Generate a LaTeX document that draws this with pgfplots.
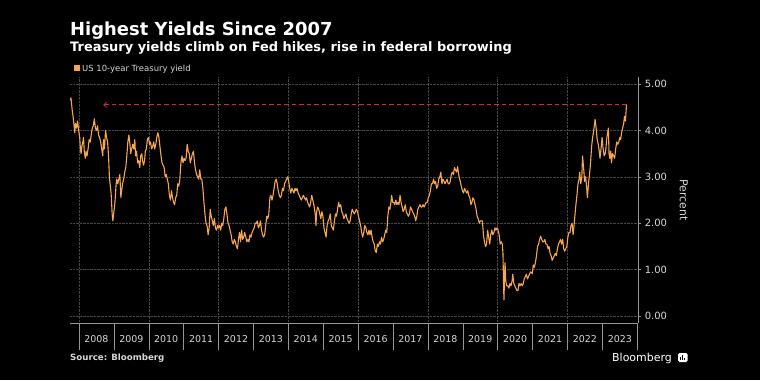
\documentclass[border=0pt]{standalone}
\usepackage{pgfplots}
\pgfplotsset{compat=1.18}
\usetikzlibrary{arrows.meta}
\usepackage{fontspec}
\setmainfont{DejaVu Sans}
\definecolor{lineor}{RGB}{246,166,80}
\definecolor{gridc}{RGB}{70,70,70}
\definecolor{axc}{RGB}{150,150,150}
\definecolor{txt}{RGB}{215,215,215}
\definecolor{redd}{RGB}{205,45,65}
\pgfplotstableread{
x y
2007.75 4.65
2007.77 4.70
2007.79 4.55
2007.81 4.40
2007.83 4.30
2007.86 4.10
2007.88 3.95
2007.90 4.15
2007.93 4.05
2007.96 4.20
2007.99 4.00
2008.02 3.85
2008.04 3.60
2008.06 3.50
2008.08 3.65
2008.11 3.75
2008.13 3.85
2008.15 3.55
2008.18 3.40
2008.20 3.55
2008.23 3.45
2008.26 3.60
2008.29 3.80
2008.32 3.75
2008.35 3.90
2008.38 4.05
2008.41 4.10
2008.44 4.25
2008.47 4.05
2008.50 4.00
2008.53 4.10
2008.56 3.90
2008.59 3.85
2008.62 3.75
2008.65 3.60
2008.68 3.45
2008.70 3.80
2008.73 3.60
2008.76 4.00
2008.79 3.85
2008.82 3.75
2008.85 3.40
2008.87 3.00
2008.89 2.85
2008.92 2.65
2008.95 2.20
2008.97 2.05
2009.00 2.25
2009.03 2.45
2009.06 2.80
2009.08 2.95
2009.11 2.85
2009.14 2.95
2009.17 3.05
2009.20 2.55
2009.22 2.70
2009.25 2.85
2009.28 2.95
2009.31 3.10
2009.34 3.20
2009.37 3.45
2009.40 3.75
2009.43 3.90
2009.46 3.70
2009.48 3.50
2009.51 3.60
2009.54 3.70
2009.57 3.60
2009.60 3.80
2009.62 3.45
2009.65 3.55
2009.68 3.30
2009.71 3.35
2009.74 3.20
2009.77 3.45
2009.80 3.50
2009.82 3.35
2009.85 3.25
2009.88 3.35
2009.90 3.55
2009.93 3.60
2009.96 3.80
2009.99 3.85
2010.02 3.70
2010.05 3.75
2010.08 3.60
2010.11 3.65
2010.14 3.75
2010.17 3.60
2010.20 3.70
2010.23 3.85
2010.26 3.95
2010.29 3.85
2010.32 3.65
2010.35 3.45
2010.38 3.30
2010.41 3.25
2010.44 3.20
2010.47 3.00
2010.50 3.05
2010.53 2.95
2010.56 2.85
2010.59 2.60
2010.62 2.50
2010.65 2.70
2010.68 2.55
2010.71 2.45
2010.74 2.40
2010.77 2.55
2010.80 2.60
2010.83 2.85
2010.86 2.80
2010.89 2.95
2010.92 3.30
2010.95 3.45
2010.98 3.30
2011.01 3.40
2011.04 3.35
2011.07 3.40
2011.10 3.70
2011.13 3.55
2011.16 3.50
2011.19 3.30
2011.22 3.40
2011.25 3.50
2011.28 3.55
2011.31 3.30
2011.34 3.15
2011.37 3.05
2011.40 3.00
2011.43 2.95
2011.46 3.15
2011.49 2.95
2011.52 2.95
2011.55 2.75
2011.58 2.45
2011.61 2.20
2011.64 2.00
2011.67 1.95
2011.70 1.75
2011.73 1.90
2011.76 2.30
2011.79 2.15
2011.82 2.05
2011.85 1.95
2011.88 2.10
2011.91 1.90
2011.94 1.85
2011.97 1.95
2012.00 1.90
2012.03 1.95
2012.06 1.85
2012.09 2.00
2012.12 1.95
2012.15 2.10
2012.18 2.30
2012.21 2.35
2012.24 2.20
2012.27 2.00
2012.30 1.95
2012.33 1.85
2012.36 1.75
2012.39 1.60
2012.42 1.55
2012.45 1.65
2012.48 1.60
2012.51 1.50
2012.54 1.45
2012.57 1.65
2012.60 1.80
2012.63 1.60
2012.66 1.85
2012.69 1.65
2012.72 1.70
2012.75 1.80
2012.78 1.70
2012.81 1.60
2012.84 1.65
2012.87 1.60
2012.90 1.75
2012.93 1.70
2012.96 1.80
2012.99 1.85
2013.02 1.90
2013.05 2.00
2013.08 2.00
2013.11 2.05
2013.14 1.90
2013.17 1.95
2013.20 2.05
2013.23 1.85
2013.26 1.75
2013.29 1.70
2013.32 1.75
2013.35 1.95
2013.38 2.15
2013.41 2.10
2013.44 2.20
2013.47 2.55
2013.50 2.60
2013.53 2.50
2013.56 2.60
2013.59 2.75
2013.62 2.90
2013.65 2.95
2013.68 2.85
2013.71 2.70
2013.74 2.60
2013.77 2.55
2013.80 2.60
2013.83 2.75
2013.86 2.70
2013.89 2.85
2013.92 2.90
2013.95 2.95
2013.98 3.00
2014.01 2.90
2014.04 2.75
2014.07 2.65
2014.10 2.75
2014.13 2.70
2014.16 2.65
2014.19 2.75
2014.22 2.70
2014.25 2.75
2014.28 2.65
2014.31 2.60
2014.34 2.55
2014.37 2.50
2014.40 2.55
2014.43 2.60
2014.46 2.55
2014.49 2.50
2014.52 2.55
2014.55 2.45
2014.58 2.40
2014.61 2.35
2014.64 2.45
2014.67 2.60
2014.70 2.50
2014.73 2.40
2014.77 2.20
2014.79 1.95
2014.81 2.25
2014.84 2.35
2014.87 2.30
2014.90 2.20
2014.93 2.10
2014.96 2.25
2014.99 2.15
2015.02 1.90
2015.05 1.80
2015.08 1.70
2015.11 1.95
2015.14 2.05
2015.17 2.10
2015.20 2.20
2015.23 1.95
2015.26 1.90
2015.29 1.85
2015.32 2.05
2015.35 2.20
2015.38 2.15
2015.41 2.30
2015.44 2.45
2015.47 2.35
2015.50 2.40
2015.53 2.25
2015.56 2.20
2015.59 2.10
2015.62 2.15
2015.65 2.20
2015.68 2.10
2015.71 2.05
2015.74 2.00
2015.77 2.05
2015.80 2.20
2015.83 2.30
2015.86 2.25
2015.89 2.20
2015.92 2.25
2015.95 2.30
2015.98 2.25
2016.01 2.15
2016.04 2.05
2016.07 1.95
2016.10 1.80
2016.13 1.70
2016.16 1.80
2016.19 1.95
2016.22 1.90
2016.25 1.80
2016.28 1.75
2016.31 1.85
2016.34 1.75
2016.37 1.85
2016.40 1.70
2016.43 1.60
2016.46 1.55
2016.49 1.40
2016.52 1.37
2016.55 1.55
2016.58 1.50
2016.61 1.60
2016.64 1.55
2016.67 1.70
2016.70 1.60
2016.73 1.65
2016.76 1.75
2016.79 1.85
2016.82 1.80
2016.85 2.15
2016.88 2.35
2016.91 2.30
2016.94 2.45
2016.96 2.60
2016.99 2.45
2017.02 2.45
2017.05 2.40
2017.08 2.50
2017.11 2.40
2017.14 2.45
2017.17 2.40
2017.20 2.60
2017.23 2.45
2017.26 2.35
2017.29 2.25
2017.32 2.30
2017.35 2.40
2017.38 2.25
2017.41 2.20
2017.44 2.15
2017.47 2.20
2017.50 2.35
2017.53 2.30
2017.56 2.25
2017.59 2.20
2017.62 2.15
2017.65 2.05
2017.68 2.15
2017.71 2.30
2017.74 2.35
2017.77 2.40
2017.80 2.35
2017.83 2.35
2017.86 2.40
2017.89 2.35
2017.92 2.40
2017.95 2.45
2017.98 2.45
2018.01 2.55
2018.04 2.60
2018.07 2.70
2018.10 2.85
2018.13 2.85
2018.16 2.95
2018.19 2.85
2018.22 2.90
2018.25 2.75
2018.28 2.80
2018.31 2.95
2018.34 3.00
2018.37 3.10
2018.40 2.85
2018.43 2.95
2018.46 2.90
2018.49 2.85
2018.52 2.90
2018.55 2.95
2018.58 2.85
2018.61 2.85
2018.64 2.90
2018.67 3.05
2018.70 3.10
2018.73 3.05
2018.76 3.20
2018.79 3.15
2018.82 3.10
2018.85 3.22
2018.88 3.05
2018.91 2.95
2018.94 2.85
2018.97 2.75
2018.99 2.70
2019.02 2.65
2019.05 2.75
2019.08 2.70
2019.11 2.65
2019.14 2.70
2019.17 2.60
2019.20 2.55
2019.23 2.40
2019.26 2.45
2019.29 2.55
2019.32 2.50
2019.35 2.40
2019.38 2.30
2019.41 2.15
2019.44 2.10
2019.47 2.00
2019.50 2.05
2019.53 2.05
2019.56 2.05
2019.59 1.75
2019.62 1.60
2019.65 1.50
2019.68 1.55
2019.71 1.85
2019.74 1.70
2019.77 1.55
2019.80 1.75
2019.83 1.85
2019.86 1.75
2019.89 1.80
2019.92 1.90
2019.95 1.85
2019.98 1.90
2020.01 1.85
2020.04 1.75
2020.07 1.55
2020.10 1.60
2020.13 1.55
2020.15 1.35
2020.17 0.55
2020.18 0.35
2020.19 0.75
2020.21 1.15
2020.23 0.75
2020.26 0.65
2020.29 0.65
2020.32 0.60
2020.35 0.70
2020.38 0.65
2020.41 0.75
2020.43 0.90
2020.46 0.70
2020.49 0.65
2020.52 0.60
2020.55 0.55
2020.58 0.55
2020.61 0.70
2020.64 0.65
2020.67 0.70
2020.70 0.65
2020.73 0.70
2020.76 0.80
2020.79 0.85
2020.82 0.90
2020.85 0.80
2020.88 0.85
2020.91 0.90
2020.94 0.95
2020.97 0.93
2020.99 0.92
2021.02 1.10
2021.05 1.05
2021.08 1.15
2021.11 1.30
2021.14 1.50
2021.17 1.55
2021.20 1.65
2021.23 1.72
2021.26 1.65
2021.29 1.60
2021.32 1.60
2021.35 1.65
2021.38 1.55
2021.41 1.55
2021.44 1.45
2021.47 1.50
2021.50 1.35
2021.53 1.30
2021.56 1.20
2021.59 1.25
2021.62 1.30
2021.65 1.35
2021.68 1.30
2021.71 1.45
2021.74 1.55
2021.77 1.60
2021.80 1.65
2021.83 1.55
2021.86 1.65
2021.89 1.45
2021.92 1.40
2021.95 1.45
2021.98 1.50
2022.01 1.70
2022.04 1.80
2022.07 1.80
2022.10 1.95
2022.13 2.00
2022.16 1.75
2022.18 1.90
2022.21 2.15
2022.24 2.40
2022.27 2.60
2022.30 2.85
2022.33 2.95
2022.35 3.10
2022.38 2.85
2022.41 3.00
2022.43 3.45
2022.46 3.20
2022.49 2.90
2022.52 3.00
2022.55 2.75
2022.57 2.55
2022.60 2.85
2022.63 3.05
2022.66 3.30
2022.69 3.65
2022.72 3.85
2022.75 4.00
2022.79 4.24
2022.82 4.05
2022.85 3.80
2022.88 3.70
2022.91 3.55
2022.93 3.40
2022.96 3.60
2022.99 3.85
2023.02 3.60
2023.05 3.45
2023.08 3.50
2023.10 3.60
2023.12 3.80
2023.15 3.95
2023.17 4.05
2023.19 3.50
2023.21 3.40
2023.24 3.55
2023.26 3.30
2023.29 3.50
2023.32 3.45
2023.35 3.40
2023.38 3.60
2023.41 3.75
2023.44 3.70
2023.47 3.75
2023.50 3.85
2023.52 3.80
2023.55 3.95
2023.58 4.05
2023.61 4.15
2023.63 4.30
2023.66 4.20
2023.69 4.55
}\yields
\begin{document}
\begin{tikzpicture}[x=1bp,y=1bp]
\fill[black] (0,0) rectangle (760,380);
\node[anchor=base west, text=white, inner sep=0, font=\fontsize{18}{20}\selectfont\bfseries] at (70,345) {Highest Yields Since 2007};
\node[anchor=base west, text=white, inner sep=0, font=\fontsize{13}{15}\selectfont\bfseries] at (70,328.5) {Treasury yields climb on Fed hikes, rise in federal borrowing};
\fill[lineor] (74,309) rectangle (80,315);
\node[anchor=base west, text=txt, inner sep=0, font=\fontsize{8.5}{10}\selectfont] at (82,309) {US 10-year Treasury yield};
\node[anchor=base west, text=txt, inner sep=0, font=\fontsize{8.7}{10}\selectfont\bfseries] at (70,19.5) {Source: Bloomberg};
\node[anchor=base west, text=white, inner sep=0, font=\fontsize{11}{13}\selectfont] at (612,18.3) {Bloomberg};
\fill[white, rounded corners=1.5bp] (678,18) rectangle (687.5,27);
\fill[black] (680.2,20.5) rectangle (681.4,23.5);
\fill[black] (682.2,20.5) rectangle (683.4,25.5);
\fill[black] (684.2,20.5) rectangle (685.4,22.5);
\begin{axis}[
  at={(70bp,57bp)}, anchor=south west,
  width=568bp, height=246bp, scale only axis,
  xmin=2007.742, xmax=2024.02,
  ymin=-0.15, ymax=5.15,
  axis x line=bottom, axis y line=right,
  axis line style={-, axc, line width=0.6bp},
  xtick={2008,2009,...,2024},
  x tick label as interval,
  xticklabels={2008,2009,2010,2011,2012,2013,2014,2015,2016,2017,2018,2019,2020,2021,2022,2023},
  tick align=outside,
  x tick style={axc, line width=0.5bp, /pgfplots/major tick length=27bp},
  xticklabel style={text=txt, font=\fontsize{9.5}{11}\selectfont, yshift=-5bp},
  extra x ticks={2008,2010,2012,2014,2016,2018,2020,2022},
  extra x tick labels={},
  extra x tick style={grid=major, /pgfplots/major tick length=0pt, x tick label as interval=false},
  ytick={0,1,2,3,4,5},
  y tick style={axc, line width=0.5bp, /pgfplots/major tick length=3bp},
  yticklabel style={text=txt, font=\fontsize{10}{12}\selectfont, xshift=-1bp},
  yticklabel={\pgfmathprintnumber[fixed, fixed zerofill, precision=2]{\tick}},
  /pgf/number format/assume math mode=true,
  ymajorgrids,
  grid style={densely dotted, gridc, line width=0.5bp},
  ylabel={Percent},
  ylabel shift=6bp,
  ylabel style={rotate=180, text=txt, font=\fontsize{11}{13}\selectfont},
  clip=false,
]
\addplot[redd, line width=0.8bp, dash pattern=on 4.5bp off 3bp, -{Straight Barb[length=3bp, width=5bp]}] coordinates {(2023.69,4.55) (2008.69,4.55)};
\addplot[lineor, line width=1.1bp, line join=round] table[x=x, y=y] {\yields};
\end{axis}
\end{tikzpicture}
\end{document}
